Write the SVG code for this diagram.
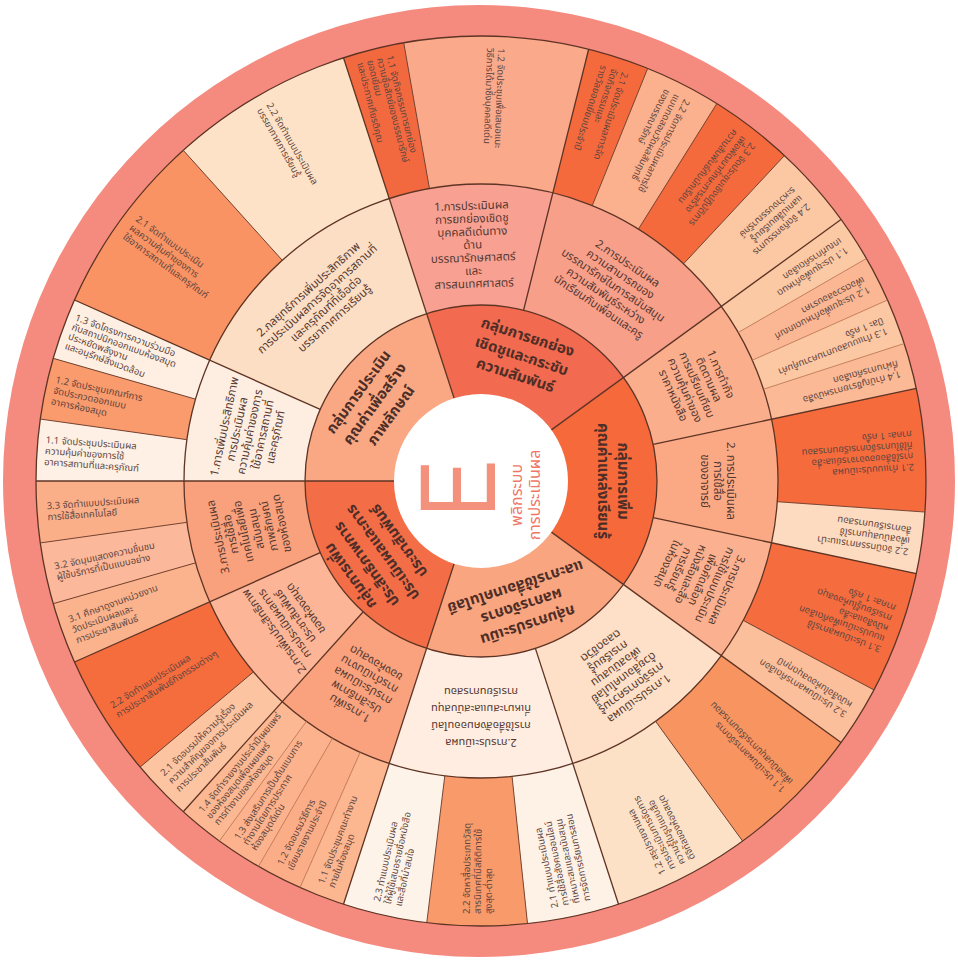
<svg xmlns="http://www.w3.org/2000/svg" width="958" height="962" viewBox="0 0 958 962">
<style>
text{font-family:"Noto Sans Thai","Noto Sans","DejaVu Sans",sans-serif}
.t3{font-size:9.5px;fill:#5f4640}
.t2{font-size:11.5px;fill:#553831;text-anchor:middle}
.t1{font-size:15px;font-weight:bold;fill:#4e2e27;text-anchor:middle}
.b{stroke:#5e3425;stroke-width:1.3}
.s{stroke:#6e3f2d;stroke-width:0.9}
.f{stroke:#b5744f;stroke-width:0.7}
</style>
<rect width="958" height="962" fill="#ffffff"/>
<circle cx="479" cy="481" r="476" fill="#F58A7F"/>
<!-- ring 3 (leaves) -->
<g id="l1-1-1"><path d="M481 481L343.49 57.78A445 445 0 0 1 403.73 42.76Z" fill="#F3693F"/>
<text class="t3" transform="translate(481,481) rotate(76)"><tspan x="-435" y="-11">1.1 จัดกิจกรรมการยกย่อง</tspan><tspan x="-435" y="-1">ความซื่อสัตย์ของบรรณารักษ์</tspan><tspan x="-435" y="9">ยอดเยี่ยม</tspan><tspan x="-435" y="19">และประกาศเกียรติคุณ</tspan></text></g>
<g id="l1-1-2"><path d="M481 481L403.73 42.76A445 445 0 0 1 588.65 49.22Z" fill="#FBA98B"/>
<text class="t3" transform="translate(481,481) rotate(92)"><tspan x="-433" y="-2">1.2 จัดประชุมเพื่อเสนอแนะ</tspan><tspan x="-433" y="9">วิธีการได้มาซึ่งบุคคลดีเด่น</tspan></text></g>
<g id="l1-2-1"><path d="M481 481L588.65 49.22A445 445 0 0 1 647.70 68.40Z" fill="#F46A3D"/>
<text class="t3" transform="translate(481,481) rotate(108)"><tspan x="-433" y="-7.5">2.1 จัดประเมินผลการจัด</tspan><tspan x="-433" y="3.5">จัดกิจกรรมและ</tspan><tspan x="-433" y="14.5">รางวัลยอดเยี่ยมประจำปี</tspan></text></g>
<g id="l1-2-2"><path d="M481 481L647.70 68.40A445 445 0 0 1 716.81 103.62Z" fill="#FBB18D"/>
<text class="t3" transform="translate(481,481) rotate(117)"><tspan x="-433" y="-7.5">2.2 จัดการประเมินผลการใช้</tspan><tspan x="-433" y="3.5">แบบทดสอบวัดผลสัมฤทธิ์</tspan><tspan x="-433" y="14.5">ของบรรณารักษ์</tspan></text></g>
<g id="l1-2-3"><path d="M481 481L716.81 103.62A445 445 0 0 1 784.49 155.55Z" fill="#F46A3D"/>
<text class="t3" transform="translate(481,481) rotate(127.5)"><tspan x="-433" y="-7.5">2.3 จัดประชุมเชิงปฏิบัติการ</tspan><tspan x="-433" y="3.5">เพื่อพัฒนาทักษะการสร้าง</tspan><tspan x="-433" y="14.5">ความสัมพันธ์กับนักเรียน</tspan></text></g>
<g id="l1-2-4"><path d="M481 481L784.49 155.55A445 445 0 0 1 841.01 219.43Z" fill="#FCC8A3"/>
<text class="t3" transform="translate(481,481) rotate(138.5)"><tspan x="-428" y="-7.5">2.4 จัดกิจกรรมการ</tspan><tspan x="-428" y="3.5">แลกเปลี่ยนเรียนรู้</tspan><tspan x="-428" y="14.5">ระหว่างบรรณารักษ์</tspan></text></g>
<g id="l5-1-1"><path d="M481 481L841.01 219.43A445 445 0 0 1 866.38 258.5Z" fill="#FCC9A5"/>
<text class="t3" transform="translate(481,481) rotate(147)"><tspan x="-433" y="-2">1.1 ประชุมเพื่อกำหนด</tspan><tspan x="-433" y="9">เกณฑ์การคัดเลือก</tspan></text></g>
<g id="l5-1-2"><path d="M481 481L866.38 258.5A445 445 0 0 1 887.53 300.0Z" fill="#FBB793"/>
<text class="t3" transform="translate(481,481) rotate(153)"><tspan x="-433" y="-2">1.2 ประชุมเพื่อกำหนดเกณฑ์</tspan><tspan x="-433" y="9">เพื่อตรวจสอบราคา</tspan></text></g>
<g id="l5-1-3"><path d="M481 481L887.53 300.0A445 445 0 0 1 904.22 343.49Z" fill="#FCC7A3"/>
<text class="t3" transform="translate(481,481) rotate(159)"><tspan x="-433" y="-2">1.3 ทำแบบสอบถามความคุ้มค่า</tspan><tspan x="-433" y="9">ปีละ 1 ครั้ง</tspan></text></g>
<g id="l5-1-4"><path d="M481 481L904.22 343.49A445 445 0 0 1 916.28 388.48Z" fill="#FBB995"/>
<text class="t3" transform="translate(481,481) rotate(165)"><tspan x="-433" y="-2">1.4 ทำบัญชีรายการหนังสือ</tspan><tspan x="-433" y="9">ที่ผ่านการคัดเลือก</tspan></text></g>
<g id="l5-2-1"><path d="M481 481L916.28 388.48A445 445 0 0 1 924.91 512.04Z" fill="#F56B3C"/>
<text class="t3" transform="translate(481,481) rotate(176)"><tspan x="-433" y="-13">2.1 ทำแบบประเมินผล</tspan><tspan x="-433" y="-2">การใช้สื่อของอาจารย์และสื่อ</tspan><tspan x="-433" y="9">ที่ใช้ในการจัดการเรียนการสอน</tspan><tspan x="-433" y="20">ภาคละ 1 ครั้ง</tspan></text></g>
<g id="l5-2-2"><path d="M481 481L924.91 512.04A445 445 0 0 1 916.28 573.52Z" fill="#FDDBC0"/>
<text class="t3" transform="translate(481,481) rotate(188)"><tspan x="-433" y="-7.5">2.2 จัดนิทรรศการแนะนำ</tspan><tspan x="-433" y="3.5">เพื่อสนับสนุนการใช้</tspan><tspan x="-433" y="14.5">สื่อการเรียนการสอน</tspan></text></g>
<g id="l5-3-1"><path d="M481 481L916.28 573.52A445 445 0 0 1 873.91 689.91Z" fill="#F56D3E"/>
<text class="t3" transform="translate(481,481) rotate(200)"><tspan x="-433" y="-18.5">3.1 ประเมินผลการใช้</tspan><tspan x="-433" y="-7.5">แบบประเมินเพื่อคัดเลือก</tspan><tspan x="-433" y="3.5">หนังสือและสื่อ</tspan><tspan x="-433" y="14.5">การเรียนรู้ในห้องสมุด</tspan><tspan x="-433" y="25.5">ภาคละ 1 ครั้ง</tspan></text></g>
<g id="l5-3-2"><path d="M481 481L873.91 689.91A445 445 0 0 1 841.01 742.57Z" fill="#FCBF9B"/>
<text class="t3" transform="translate(481,481) rotate(212)"><tspan x="-433" y="-2">3.2 ประเมินผลการคัดเลือก</tspan><tspan x="-433" y="9">หนังสือในห้องสมุดทุกปี</tspan></text></g>
<g id="l4-1-1"><path d="M481 481L841.01 742.57A445 445 0 0 1 742.57 841.01Z" fill="#F8945F"/>
<text class="t3" transform="translate(481,481) rotate(225)"><tspan x="-433" y="-2">1.1 ประเมินผลการจัดการ</tspan><tspan x="-433" y="9">เพื่อสนับสนุนการเรียนการสอน</tspan></text></g>
<g id="l4-1-2"><path d="M481 481L742.57 841.01A445 445 0 0 1 618.51 904.22Z" fill="#FDE1C7"/>
<text class="t3" transform="translate(481,481) rotate(243)"><tspan x="-433" y="-13">1.2 สรุปรายงานผล</tspan><tspan x="-433" y="-2">การประเมินการจัดการ</tspan><tspan x="-433" y="9">ความรู้ในรูปแบบสื่อ</tspan><tspan x="-433" y="20">ดิจิทัลของห้องสมุด</tspan></text></g>
<g id="l4-2-1"><path d="M481 481L618.51 904.22A445 445 0 0 1 527.52 923.56Z" fill="#FEF1E6"/>
<text class="t3" transform="translate(481,481) rotate(258)"><tspan x="-433" y="-13">2.1 ทำแบบประเมินผล</tspan><tspan x="-433" y="-2">การใช้สื่อสังคมออนไลน์</tspan><tspan x="-433" y="9">ที่เหมาะสมและสนับสนุน</tspan><tspan x="-433" y="20">การจัดการเรียนการสอน</tspan></text></g>
<g id="l4-2-2"><path d="M481 481L527.52 923.56A445 445 0 0 1 426.77 922.68Z" fill="#F89A69"/>
<text class="t3" transform="translate(481,481) rotate(270.5)"><tspan x="-433" y="-7.5">2.2 จัดหาสื่อประเภทวัสดุ</tspan><tspan x="-433" y="3.5">สารนิเทศที่มีสถิติการใช้</tspan><tspan x="-433" y="14.5">สูงสุด-ต่ำสุด</tspan></text></g>
<g id="l4-2-3"><path d="M481 481L426.77 922.68A445 445 0 0 1 343.49 904.22Z" fill="#FEF3E9"/>
<text class="t3" transform="translate(481,481) rotate(282.5)"><tspan x="-433" y="-7.5">2.3 ทำแบบประเมินผล</tspan><tspan x="-433" y="3.5">ให้ผู้ใช้เสนอรายชื่อหนังสือ</tspan><tspan x="-433" y="14.5">และสื่อที่น่าสนใจ</tspan></text></g>
<g id="l3-1-1"><path d="M481 481L343.49 904.22A445 445 0 0 1 300.0 887.53Z" fill="#FCB690"/>
<text class="t3" transform="translate(481,481) rotate(291)"><tspan x="-433" y="-2">1.1 จัดประชุมคณะทำงาน</tspan><tspan x="-433" y="9">ภายในห้องสมุด</tspan></text></g>
<g id="l3-1-2"><path d="M481 481L300.0 887.53A445 445 0 0 1 258.5 866.38Z" fill="#FBAD87"/>
<text class="t3" transform="translate(481,481) rotate(297)"><tspan x="-433" y="-2">1.2 จัดอบรมวิธีการ</tspan><tspan x="-433" y="9">เขียนรายงานประจำปี</tspan></text></g>
<g id="l3-1-3"><path d="M481 481L258.5 866.38A445 445 0 0 1 219.43 841.01Z" fill="#FCB28C"/>
<text class="t3" transform="translate(481,481) rotate(303)"><tspan x="-433" y="-7">1.3 ส่งเสริมการเป็นต้นแบบการ</tspan><tspan x="-433" y="3">ทำงานโดยการประกาศ</tspan><tspan x="-433" y="13">ห้องสมุดดีเด่น</tspan></text></g>
<g id="l3-1-4"><path d="M481 481L219.43 841.01A445 445 0 0 1 183.24 811.70Z" fill="#FCB892"/>
<text class="t3" transform="translate(481,481) rotate(309)"><tspan x="-433" y="-7">1.4 จัดทำรายงานประจำปีเผยแพร่</tspan><tspan x="-433" y="3">ของห้องสมุดเพื่อเผยแพร่</tspan><tspan x="-433" y="13">การทำงานของห้องสมุด</tspan></text></g>
<g id="l3-2-1"><path d="M481 481L183.24 811.70A445 445 0 0 1 140.11 767.04Z" fill="#FCC4A1"/>
<text class="t3" transform="translate(481,481) rotate(316)"><tspan x="-433" y="-7.5">2.1 จัดอบรมให้ความรู้เรื่อง</tspan><tspan x="-433" y="3.5">ความสำคัญของการประเมินผล</tspan><tspan x="-433" y="14.5">การประชาสัมพันธ์</tspan></text></g>
<g id="l3-2-2"><path d="M481 481L140.11 767.04A445 445 0 0 1 74.47 662.0Z" fill="#F56C3D"/>
<text class="t3" transform="translate(481,481) rotate(328)"><tspan x="-433" y="-2">2.2 จัดทำแบบประเมินผล</tspan><tspan x="-433" y="9">การประชาสัมพันธ์กิจกรรมต่างๆ</tspan></text></g>
<g id="l3-3-1"><path d="M481 481L74.47 662.0A445 445 0 0 1 53.24 603.66Z" fill="#FBB38D"/>
<text class="t3" transform="translate(481,481) rotate(-20)"><tspan x="-435" y="-7.5">3.1 ศึกษาดูงานหน่วยงาน</tspan><tspan x="-435" y="3.5">วัดประเมินผลและ</tspan><tspan x="-435" y="14.5">การประชาสัมพันธ์</tspan></text></g>
<g id="l3-3-2"><path d="M481 481L53.24 603.66A445 445 0 0 1 40.33 542.93Z" fill="#FCB89A"/>
<text class="t3" transform="translate(481,481) rotate(-12)"><tspan x="-435" y="-2">3.2 จัดมุมแสดงความชื่นชม</tspan><tspan x="-435" y="9">ผู้ใช้บริการที่เป็นแบบอย่าง</tspan></text></g>
<g id="l3-3-3"><path d="M481 481L40.33 542.93A445 445 0 0 1 36 481Z" fill="#FBAF89"/>
<text class="t3" transform="translate(481,481) rotate(-4)"><tspan x="-435" y="-2">3.3 จัดทำแบบประเมินผล</tspan><tspan x="-435" y="9">การใช้สื่อเทคโนโลยี</tspan></text></g>
<g id="l2-1-1"><path d="M481 481L36 481A445 445 0 0 1 40.33 419.07Z" fill="#FEF0E4"/>
<text class="t3" transform="translate(481,481) rotate(4)"><tspan x="-437" y="-7.5">1.1 จัดประชุมประเมินผล</tspan><tspan x="-437" y="3.5">ความคุ้มค่าของการใช้</tspan><tspan x="-437" y="14.5">อาคารสถานที่และครุภัณฑ์</tspan></text></g>
<g id="l2-1-2"><path d="M481 481L40.33 419.07A445 445 0 0 1 53.24 358.34Z" fill="#F99B6C"/>
<text class="t3" transform="translate(481,481) rotate(12)"><tspan x="-437" y="-7.5">1.2 จัดประชุมเกณฑ์การ</tspan><tspan x="-437" y="3.5">จัดประกวดออกแบบ</tspan><tspan x="-437" y="14.5">อาคารห้องสมุด</tspan></text></g>
<g id="l2-1-3"><path d="M481 481L53.24 358.34A445 445 0 0 1 74.47 300.0Z" fill="#FEEFE2"/>
<text class="t3" transform="translate(481,481) rotate(20)"><tspan x="-437" y="-12">1.3 จัดโครงการความร่วมมือ</tspan><tspan x="-437" y="-2">กับสถาปนิกออกแบบห้องสมุด</tspan><tspan x="-437" y="8">ประหยัดพลังงาน</tspan><tspan x="-437" y="18">และอนุรักษ์สิ่งแวดล้อม</tspan></text></g>
<g id="l2-2-1"><path d="M481 481L74.47 300.0A445 445 0 0 1 183.24 150.30Z" fill="#F99363"/>
<text class="t3" transform="translate(481,481) rotate(36)"><tspan x="-433" y="-7.5">2.1 จัดทำแบบประเมิน</tspan><tspan x="-433" y="3.5">ผลความคุ้มค่าของการ</tspan><tspan x="-433" y="14.5">ใช้อาคารสถานที่และครุภัณฑ์</tspan></text></g>
<g id="l2-2-2"><path d="M481 481L183.24 150.30A445 445 0 0 1 343.49 57.78Z" fill="#FDE2C7"/>
<text class="t3" transform="translate(481,481) rotate(60)"><tspan x="-433" y="-2">2.2 จัดทำแบบประเมินผล</tspan><tspan x="-433" y="9">บรรยากาศการเรียนรู้</tspan></text></g>
<!-- ring 2 -->
<g id="s1-1"><path d="M481 481L389.22 198.54A297 297 0 0 1 552.85 192.82Z" fill="#F8A193"/>
<text class="t2" transform="translate(481,481) rotate(-2)"><tspan x="0" y="-271.5">1.การประเมินผล</tspan><tspan x="0" y="-258.5">การยกย่องเชิดชู</tspan><tspan x="0" y="-245.5">บุคคลดีเด่นทาง</tspan><tspan x="0" y="-232.5">ด้าน</tspan><tspan x="0" y="-219.5">บรรณารักษศาสตร์</tspan><tspan x="0" y="-206.5">และ</tspan><tspan x="0" y="-193.5">สารสนเทศศาสตร์</tspan></text></g>
<g id="s1-2"><path d="M481 481L552.85 192.82A297 297 0 0 1 721.28 306.43Z" fill="#F89F8A"/>
<text class="t2" transform="translate(481,481) rotate(34)"><tspan x="0" y="-258.5">2.การประเมินผล</tspan><tspan x="0" y="-245.5">ความสามารถของ</tspan><tspan x="0" y="-232.5">บรรณารักษ์ในการสนับสนุน</tspan><tspan x="0" y="-219.5">ความสัมพันธ์ระหว่าง</tspan><tspan x="0" y="-206.5">นักเรียนกับเพื่อนและครู</tspan></text></g>
<g id="s2-2"><path d="M481 481L209.68 360.20A297 297 0 0 1 389.22 198.54Z" fill="#FCDEC4"/>
<text class="t2" transform="translate(481,481) rotate(-42)"><tspan x="0" y="-254">2.กลยุทธ์การเพิ่มประสิทธิภาพ</tspan><tspan x="0" y="-241">การประเมินผลการจัดอาคารสถานที่</tspan><tspan x="0" y="-228">และครุภัณฑ์ที่เอื้อต่อ</tspan><tspan x="0" y="-215">บรรยากาศการเรียนรู้</tspan></text></g>
<g id="s2-1"><path d="M481 481L184 481A297 297 0 0 1 209.68 360.20Z" fill="#FDEEE1"/>
<text class="t2" transform="translate(481,481) rotate(-78)"><tspan x="0" y="-258.5">1.การเพิ่มประสิทธิภาพ</tspan><tspan x="0" y="-245.5">การประเมินผล</tspan><tspan x="0" y="-232.5">ความคุ้มค่าของการ</tspan><tspan x="0" y="-219.5">ใช้อาคารสถานที่</tspan><tspan x="0" y="-206.5">และครุภัณฑ์</tspan></text></g>
<g id="s3-3"><path d="M481 481L209.68 601.80A297 297 0 0 1 184 481Z" fill="#F9A17C"/>
<text class="t2" transform="translate(481,481) rotate(-102)"><tspan x="0" y="-265">3.การประเมินผล</tspan><tspan x="0" y="-252">การใช้สื่อ</tspan><tspan x="0" y="-239">เทคโนโลยีเพื่อ</tspan><tspan x="0" y="-226">สนับสนุน</tspan><tspan x="0" y="-213">ภาพลักษณ์</tspan><tspan x="0" y="-200">ของห้องสมุด</tspan></text></g>
<g id="s3-2"><path d="M481 481L282.27 701.71A297 297 0 0 1 209.68 601.80Z" fill="#FCB596"/>
<text class="t2" transform="translate(481,481) rotate(-126)"><tspan x="0" y="-252">2.การเพิ่มประสิทธิภาพ</tspan><tspan x="0" y="-239">การประเมินผลการ</tspan><tspan x="0" y="-226">ประชาสัมพันธ์</tspan><tspan x="0" y="-213">ของห้องสมุด</tspan></text></g>
<g id="s3-1"><path d="M481 481L389.22 763.46A297 297 0 0 1 282.27 701.71Z" fill="#F9A27D"/>
<text class="t2" transform="translate(481,481) rotate(-150)"><tspan x="0" y="-258.5">1.การเพิ่ม</tspan><tspan x="0" y="-245.5">ประสิทธิภาพ</tspan><tspan x="0" y="-232.5">การประเมินผล</tspan><tspan x="0" y="-219.5">การดำเนินงาน</tspan><tspan x="0" y="-206.5">ของห้องสมุด</tspan></text></g>
<g id="s4-2"><path d="M481 481L572.78 763.46A297 297 0 0 1 389.22 763.46Z" fill="#FEEDE0"/>
<text class="t2" transform="translate(481,481) rotate(180)" style="font-size:11px"><tspan x="0" y="-258">2.การประเมินผล</tspan><tspan x="0" y="-241">การใช้สื่อสังคมออนไลน์</tspan><tspan x="0" y="-224">ที่เหมาะสมและสนับสนุน</tspan><tspan x="0" y="-207">การเรียนการสอน</tspan></text></g>
<g id="s4-1"><path d="M481 481L721.28 655.57A297 297 0 0 1 572.78 763.46Z" fill="#FDE0C7"/>
<text class="t2" transform="translate(481,481) rotate(144)"><tspan x="0" y="-265">1.การประเมินผล</tspan><tspan x="0" y="-252">การจัดการความรู้</tspan><tspan x="0" y="-239">ด้วยสื่อเทคโนโลยี</tspan><tspan x="0" y="-226">เพื่อสนับสนุน</tspan><tspan x="0" y="-213">การเรียนรู้</tspan><tspan x="0" y="-200">ตลอดชีวิต</tspan></text></g>
<g id="s5-3"><path d="M481 481L771.51 542.75A297 297 0 0 1 721.28 655.57Z" fill="#FBB18F"/>
<text class="t2" transform="translate(481,481) rotate(114)"><tspan x="0" y="-265">3.การประเมินผล</tspan><tspan x="0" y="-252">การใช้แบบประเมิน</tspan><tspan x="0" y="-239">เพื่อคัดเลือก</tspan><tspan x="0" y="-226">หนังสือและสื่อ</tspan><tspan x="0" y="-213">การเรียนรู้</tspan><tspan x="0" y="-200">ในห้องสมุด</tspan></text></g>
<g id="s5-2"><path d="M481 481L771.51 419.25A297 297 0 0 1 771.51 542.75Z" fill="#FBA985"/>
<text class="t2" transform="translate(481,481) rotate(90)"><tspan x="0" y="-245.5">2. การประเมินผล</tspan><tspan x="0" y="-232.5">การใช้สื่อ</tspan><tspan x="0" y="-219.5">ของอาจารย์</tspan></text></g>
<g id="s5-1"><path d="M481 481L721.28 306.43A297 297 0 0 1 771.51 419.25Z" fill="#FAAE8C"/>
<text class="t2" transform="translate(481,481) rotate(66)"><tspan x="0" y="-258.5">1.การทำกิจ</tspan><tspan x="0" y="-245.5">ติดตามผล</tspan><tspan x="0" y="-232.5">การเปรียบเทียบ</tspan><tspan x="0" y="-219.5">ความคุ้มค่าของ</tspan><tspan x="0" y="-206.5">ราคาหนังสือ</tspan></text></g>
<!-- ring 1 -->
<g id="grp1"><path d="M481 481L426.61 313.61A176 176 0 0 1 623.39 377.55Z" fill="#F26A4F"/>
<text class="t1" transform="translate(481,481) rotate(18)"><tspan x="0" y="-146.5">กลุ่มการยกย่อง</tspan><tspan x="0" y="-126.5">เชิดชูและกระชับ</tspan><tspan x="0" y="-106.5">ความสัมพันธ์</tspan></text></g>
<g id="grp2"><path d="M481 481L305 481A176 176 0 0 1 426.61 313.61Z" fill="#F9A883"/>
<text class="t1" transform="translate(481,481) rotate(-54)"><tspan x="0" y="-146.5">กลุ่มการประเมิน</tspan><tspan x="0" y="-126.5">คุณค่าเพื่อสร้าง</tspan><tspan x="0" y="-106.5">ภาพลักษณ์</tspan></text></g>
<g id="grp3"><path d="M481 481L426.61 648.39A176 176 0 0 1 305 481Z" fill="#F36D47"/>
<text class="t1" transform="translate(481,481) rotate(-126)"><tspan x="0" y="-156.5">กลุ่มการเพิ่ม</tspan><tspan x="0" y="-136.5">ประสิทธิภาพการ</tspan><tspan x="0" y="-116.5">ประเมินผลและการ</tspan><tspan x="0" y="-96.5">ประชาสัมพันธ์</tspan></text></g>
<g id="grp4"><path d="M481 481L623.39 584.45A176 176 0 0 1 426.61 648.39Z" fill="#F9A580"/>
<text class="t1" transform="translate(481,481) rotate(162)"><tspan x="0" y="-146.5">กลุ่มการประเมิน</tspan><tspan x="0" y="-126.5">ผลการจัดการ</tspan><tspan x="0" y="-106.5">และการใช้สื่อเทคโนโลยี</tspan></text></g>
<g id="grp5"><path d="M481 481L623.39 377.55A176 176 0 0 1 623.39 584.45Z" fill="#F5693B"/>
<text class="t1" transform="translate(481,481) rotate(90)"><tspan x="0" y="-136.5">กลุ่มการเพิ่ม</tspan><tspan x="0" y="-116.5">คุณค่าแหล่งเรียนรู้</tspan></text></g>
<!-- connectors: ring borders and dividers -->
<g id="connectors" fill="none" transform="translate(481,481)">
<circle r="176" class="b"/><circle r="297" class="b"/><circle r="445" class="b"/>
<g class="b">
<line x1="87" y1="0" x2="445" y2="0" transform="rotate(-36)"/>
<line x1="87" y1="0" x2="445" y2="0" transform="rotate(-108)"/>
<line x1="87" y1="0" x2="445" y2="0" transform="rotate(-180)"/>
<line x1="87" y1="0" x2="445" y2="0" transform="rotate(-252)"/>
<line x1="87" y1="0" x2="445" y2="0" transform="rotate(-324)"/>
<line x1="176" y1="0" x2="445" y2="0" transform="rotate(-76)"/>
<line x1="176" y1="0" x2="445" y2="0" transform="rotate(-12)"/>
<line x1="176" y1="0" x2="445" y2="0" transform="rotate(12)"/>
<line x1="176" y1="0" x2="445" y2="0" transform="rotate(72)"/>
<line x1="176" y1="0" x2="445" y2="0" transform="rotate(132)"/>
<line x1="176" y1="0" x2="445" y2="0" transform="rotate(156)"/>
<line x1="176" y1="0" x2="445" y2="0" transform="rotate(-156)"/>
</g>
<g class="s">
<line x1="297" y1="0" x2="445" y2="0" transform="rotate(-100)"/>
<line x1="297" y1="0" x2="445" y2="0" transform="rotate(-68)"/>
<line x1="297" y1="0" x2="445" y2="0" transform="rotate(-58)"/>
<line x1="297" y1="0" x2="445" y2="0" transform="rotate(-47)"/>
<line x1="297" y1="0" x2="445" y2="0" transform="rotate(4)"/>
<line x1="297" y1="0" x2="445" y2="0" transform="rotate(28)"/>
<line x1="297" y1="0" x2="445" y2="0" transform="rotate(54)"/>
<line x1="297" y1="0" x2="445" y2="0" transform="rotate(84)"/>
<line x1="297" y1="0" x2="445" y2="0" transform="rotate(97)"/>
<line x1="297" y1="0" x2="445" y2="0" transform="rotate(140)"/>
<line x1="297" y1="0" x2="445" y2="0" transform="rotate(164)"/>
<line x1="297" y1="0" x2="445" y2="0" transform="rotate(172)"/>
<line x1="297" y1="0" x2="445" y2="0" transform="rotate(-172)"/>
<line x1="297" y1="0" x2="445" y2="0" transform="rotate(-164)"/>
<line x1="297" y1="0" x2="445" y2="0" transform="rotate(-132)"/>
</g>
<g class="f">
<line x1="297" y1="0" x2="445" y2="0" transform="rotate(-30)"/>
<line x1="297" y1="0" x2="445" y2="0" transform="rotate(-24)"/>
<line x1="297" y1="0" x2="445" y2="0" transform="rotate(-18)"/>
<line x1="297" y1="0" x2="445" y2="0" transform="rotate(114)"/>
<line x1="297" y1="0" x2="445" y2="0" transform="rotate(120)"/>
<line x1="297" y1="0" x2="445" y2="0" transform="rotate(126)"/>
</g>
</g>
<!-- centre -->
<g id="centre">
<circle cx="481" cy="481" r="87" fill="#ffffff"/>
<text x="0" y="0" transform="translate(495,517) rotate(-90) scale(0.8,1)" style="font-family:'Liberation Sans',sans-serif;font-size:107px;fill:#F4917C">E</text>
<text transform="translate(502,495) rotate(-90)" style="font-size:16px;fill:#EF7666;text-anchor:middle"><tspan x="0" y="20">พลิกระบบ</tspan><tspan x="0" y="38">การประเมินผล</tspan></text>
</g>
</svg>
